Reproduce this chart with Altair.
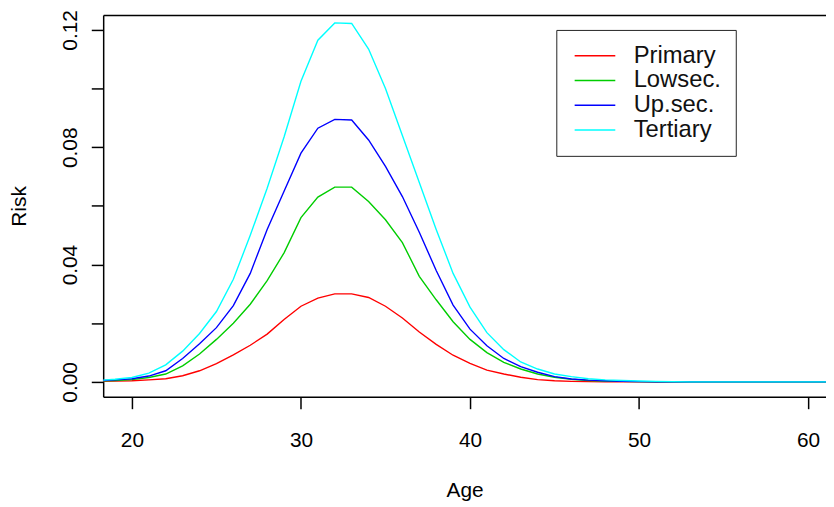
import altair as alt
import pandas as pd

ages = list(range(18, 63))

primary = [0.0002, 0.0003, 0.0004, 0.0007, 0.0011, 0.0021, 0.0038, 0.0062, 0.0092, 0.0125,
           0.0163, 0.0213, 0.0258, 0.0286, 0.0300, 0.0300, 0.0288, 0.0258, 0.0218, 0.0170,
           0.0128, 0.0091, 0.0063, 0.0040, 0.0027, 0.0016, 0.0008, 0.0004, 0.0002, 0.0001,
           0.0, 0.0, 0.0, 0.0, 0.0, 0.0, 0.0, 0.0, 0.0, 0.0, 0.0, 0.0, 0.0, 0.0, 0.0]

lowsec = [0.0003, 0.0005, 0.0008, 0.0015, 0.0027, 0.0055, 0.0095, 0.0145, 0.0200, 0.0265,
          0.0345, 0.0440, 0.0560, 0.0630, 0.0664, 0.0664, 0.0615, 0.0553, 0.0475, 0.0360,
          0.0280, 0.0205, 0.0145, 0.0100, 0.0067, 0.0044, 0.0027, 0.0016, 0.0009, 0.0005,
          0.0003, 0.0002, 0.0001, 0.0, 0.0, 0.0, 0.0, 0.0, 0.0, 0.0, 0.0, 0.0, 0.0, 0.0, 0.0]

upsec = [0.0004, 0.0007, 0.0011, 0.0020, 0.0038, 0.0080, 0.0130, 0.0185, 0.0260, 0.0370,
         0.0520, 0.0650, 0.0780, 0.0865, 0.0895, 0.0893, 0.0825, 0.0735, 0.0632, 0.0510,
         0.0380, 0.0262, 0.0180, 0.0123, 0.0080, 0.0052, 0.0033, 0.0018, 0.0010, 0.0006,
         0.0004, 0.0002, 0.0001, 0.0, 0.0, 0.0, 0.0, 0.0, 0.0, 0.0, 0.0, 0.0, 0.0, 0.0, 0.0]

tertiary = [0.0005, 0.0009, 0.0015, 0.0030, 0.0058, 0.0105, 0.0165, 0.0240, 0.0350, 0.0500,
            0.0660, 0.0835, 0.1025, 0.1165, 0.1224, 0.1222, 0.1135, 0.1000, 0.0840, 0.0680,
            0.0520, 0.0370, 0.0255, 0.0168, 0.0110, 0.0068, 0.0044, 0.0027, 0.0018, 0.0011,
            0.0007, 0.0005, 0.0003, 0.0002, 0.0001, 0.0, 0.0, 0.0, 0.0, 0.0, 0.0, 0.0, 0.0, 0.0, 0.0]

series_names = ["Primary", "Lowsec.", "Up.sec.", "Tertiary"]
series_colors = ["#FF0000", "#00CD00", "#0000FF", "#00FFFF"]
x_ticks = [20, 30, 40, 50, 60]
y_ticks = [0.0, 0.02, 0.04, 0.06, 0.08, 0.10, 0.12]

rows = []
for name, vals in zip(series_names, [primary, lowsec, upsec, tertiary]):
    for a, v in zip(ages, vals):
        rows.append({"Age": a, "Risk": v, "Group": name})
df = pd.DataFrame(rows)

W, H = 729, 385
FONT = "Liberation Sans"
xs = alt.Scale(domain=[18.30, 61.06], nice=False, zero=False)
ys = alt.Scale(domain=[-0.00507, 0.12507], nice=False, zero=False)

lines = alt.Chart(df).mark_line(strokeWidth=1.4, clip=True).encode(
    x=alt.X("Age:Q", scale=xs,
            axis=alt.Axis(values=x_ticks, title="Age", labelPadding=21,
                          titleY=84, titleBaseline="top", format="d")),
    y=alt.Y("Risk:Q", scale=ys,
            axis=alt.Axis(values=y_ticks, title="Risk", labelAngle=270,
                          labelAlign="center", labelBaseline="bottom",
                          labelPadding=11, labelOverlap=False,
                          labelExpr="round(datum.value*100) % 4 == 0 ? format(datum.value, '.2f') : ''",
                          titleAngle=270, titleBaseline="bottom",
                          titleX=-74, titleY=H / 2)),
    color=alt.Color("Group:N",
                    scale=alt.Scale(domain=series_names, range=series_colors),
                    legend=alt.Legend(title=None, orient="none", legendX=457, legendY=15,
                                      direction="vertical",
                                      strokeColor="#222222", fillColor="white",
                                      padding=14, symbolOffset=13,
                                      symbolType="M-2,0L2,0", symbolSize=420,
                                      symbolStrokeWidth=1.5, labelFontSize=24,
                                      labelFont=FONT, labelColor="#111111",
                                      labelExpr="datum.label + ' '",
                                      labelOffset=27, rowPadding=1)),
)

top = alt.Chart(df).mark_line(opacity=0).encode(
    x=alt.X("Age:Q", scale=xs,
            axis=alt.Axis(orient="top", labels=False, ticks=False, title=None,
                          domainColor="black", domainWidth=1.5, grid=False)),
    y=alt.Y("Risk:Q", scale=ys),
    detail="Group:N",
)

chart = alt.layer(top, lines).resolve_axis(x="independent").properties(
    width=W, height=H,
    autosize=alt.AutoSizeParams(type="none"),
    padding={"left": 96, "top": 5, "right": 0, "bottom": 106},
    background="white",
).configure_view(stroke=None).configure_axis(
    grid=False, labelFont=FONT, titleFont=FONT, labelFontSize=21, titleFontSize=21,
    titleFontWeight="normal", labelColor="black", titleColor="black",
    tickColor="black", tickSize=12, tickWidth=1.5,
    domainColor="black", domainWidth=1.5,
)

chart.save("out.html", embed_options={"renderer": "svg", "actions": False})
